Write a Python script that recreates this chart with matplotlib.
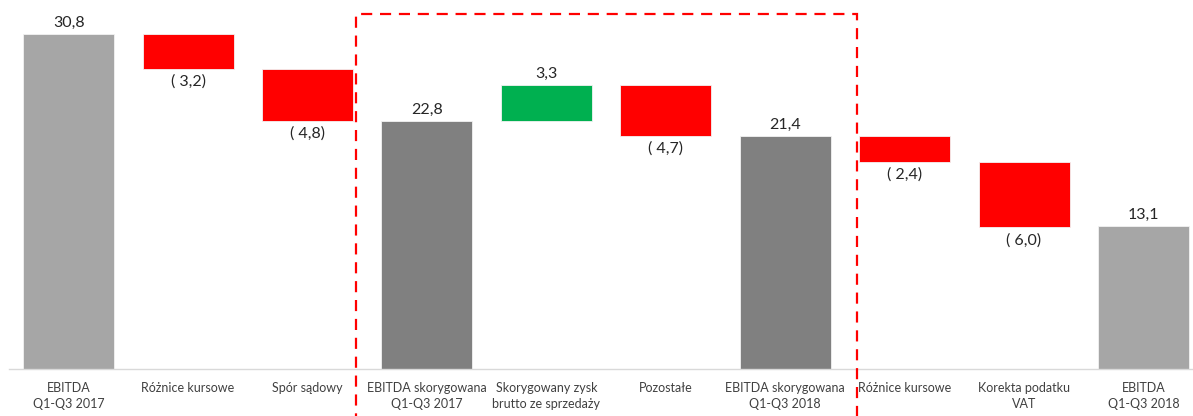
import matplotlib.pyplot as plt
from matplotlib.patches import Rectangle

# Data
categories = ['EBITDA\nQ1-Q3 2017', 'Różnice kursowe', 'Spór sądowy',
              'EBITDA skorygowana\nQ1-Q3 2017', 'Skorygowany zysk\nbrutto ze sprzedaży',
              'Pozostałe', 'EBITDA skorygowana\nQ1-Q3 2018', 'Różnice kursowe',
              'Korekta podatku\nVAT', 'EBITDA\nQ1-Q3 2018']
values = [30.8, -3.2, -4.8, 22.8, 3.3, -4.7, 21.4, -2.4, -6.0, 13.1]
kinds = ['total', 'delta', 'delta', 'subtotal', 'delta', 'delta', 'subtotal',
         'delta', 'delta', 'total']

colors = {'total': '#A6A6A6', 'subtotal': '#808080'}

plt.rcParams['font.family'] = ['Lato', 'DejaVu Sans']

fig = plt.figure(figsize=(11.93, 4.16), dpi=100)
ax = fig.add_axes([9.0 / 1193, 47 / 416, 1 - 9.0 / 1193, 1 - 47 / 416])

running = 0.0
for i, (v, k) in enumerate(zip(values, kinds)):
    if k == 'delta':
        if v >= 0:
            bottom, height, col = running, v, '#00B050'
        else:
            bottom, height, col = running + v, -v, '#FF0000'
        running += v
    else:
        bottom, height, col = 0, v, colors[k]
        running = v
    ax.bar(i, height, bottom=bottom, width=0.762, color=col,
           edgecolor='#F2F2F2', linewidth=0.6)
    if v >= 0:
        txt = f'{v:.1f}'.replace('.', ',')
        ax.annotate(txt, (i, bottom + height), xytext=(0, 3),
                    textcoords='offset points', ha='center', va='bottom',
                    fontsize=11.5, color='#262626')
    else:
        txt = f'( {-v:.1f})'.replace('.', ',')
        ax.annotate(txt, (i, bottom), xytext=(0, -4),
                    textcoords='offset points', ha='center', va='top',
                    fontsize=11.5, color='#262626')

ax.set_xlim(-0.5, 9.415)
ax.set_ylim(0, 33.9)
ax.set_xticks(range(len(categories)))
ax.set_xticklabels(categories, fontsize=9, color='#404040', linespacing=1.45)
ax.tick_params(axis='x', length=0, pad=9)
ax.set_yticks([])
for s in ['top', 'right', 'left']:
    ax.spines[s].set_visible(False)
ax.spines['bottom'].set_color('#D9D9D9')
ax.spines['bottom'].set_linewidth(1)

# dashed frame around the adjusted part
fw, fh = 1193, 416
frame = Rectangle((356 / fw, -0.05), (857 - 356) / fw, (416 - 14) / fh + 0.05,
                  transform=fig.transFigure, fill=False, edgecolor='#FF0000',
                  linewidth=1.6, linestyle=(0, (5, 3.5)), clip_on=False)
fig.patches.append(frame)

fig.savefig('out.png', dpi=100)
